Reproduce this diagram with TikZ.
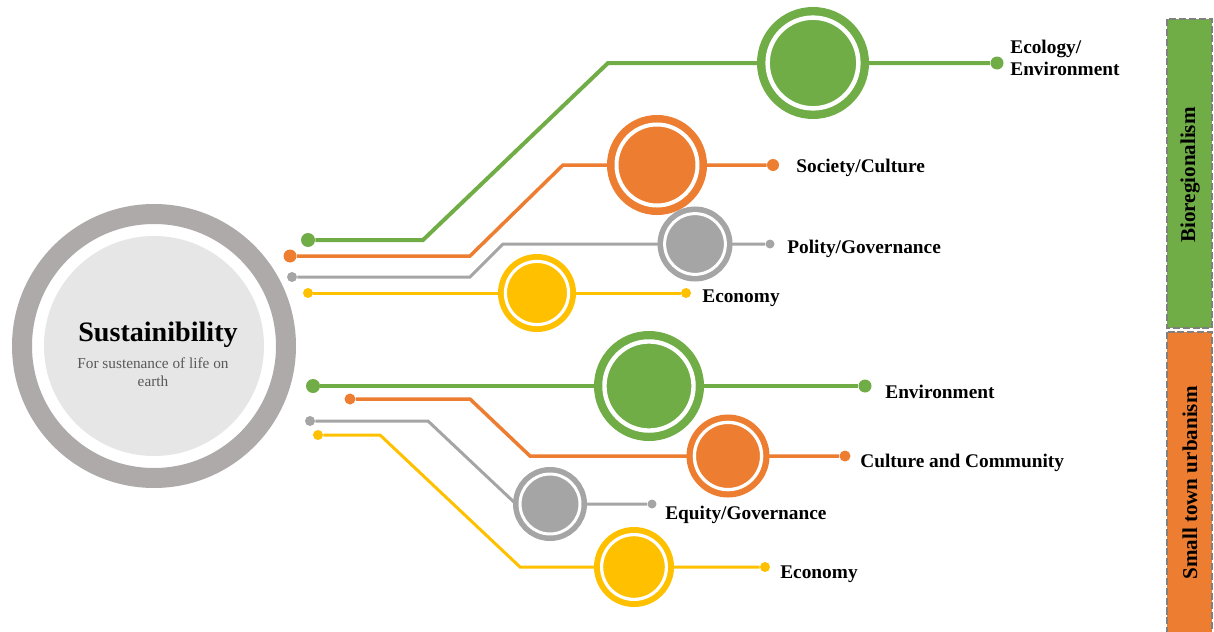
\documentclass[tikz,border=0pt]{standalone}
\usepackage{fontspec}
\setmainfont{Liberation Serif}
\usetikzlibrary{positioning}

\definecolor{leaf}{HTML}{70AD47}
\definecolor{rust}{HTML}{ED7D31}
\definecolor{ash}{HTML}{A5A5A5}
\definecolor{gold}{HTML}{FFC000}
\definecolor{hubring}{HTML}{AEAAAA}
\definecolor{hubfill}{HTML}{E7E6E6}

\tikzset{
    knob/.style 2 args={circle, fill=#1, inner sep=0pt, minimum size=#2*0.02cm},
    track/.style 2 args={draw=#1, line width=#2*0.02cm},
    badge/.style 2 args={circle, inner sep=0pt, fill=#1, draw=#1, double=white,
        double distance=0.08*#2*0.02cm, line width=0.15*#2*0.02cm, minimum size=1.62*#2*0.02cm},
    tag/.style={anchor=west, inner sep=0pt, align=left, yshift=-1.5pt, font=\fontsize{11}{12.5}\selectfont\bfseries},
    bandbox/.style={fill=#1, draw=black!50, line width=1.4pt, dash pattern=on 4pt off 1.6pt},
}

\begin{document}
\begin{tikzpicture}[x=0.02cm, y=-0.02cm]
            \useasboundingbox (0,0) rectangle (1214,632);

            % hub
            \node[circle, draw=hubring, fill=white, line width=20*0.02cm, minimum size=264*0.02cm] (hub) at (154,346) {};
            \node[circle, fill=hubfill, inner sep=0pt, minimum size=220*0.02cm] (core) at (hub) {};
            \node[font=\fontsize{16}{18}\selectfont\bfseries] (title) at (158,335) {Sustainibility};
            \node[font=\fontsize{8.7}{10.2}\selectfont, text=black!65, align=center] (motto) at (153,372) {For sustenance of life on\\earth};

            % end points
            \foreach \n/\c/\s/\x/\y in {ecoL/leaf/14/308/240, ecoR/leaf/13/997/63,
                    socL/rust/13/290/256, socR/rust/12/773/165,
                    polL/ash/10/292/277, polR/ash/9/770/244,
                    ecnL/gold/10/308/293, ecnR/gold/10/686/293,
                    envL/leaf/14/313/386, envR/leaf/13/865/386,
                    culL/rust/11/350/399, culR/rust/11/845/456,
                    equL/ash/10/310/421, equR/ash/9/652/504,
                    ectL/gold/10/318/435, ectR/gold/10/765/567} {
                \node[knob={\c}{\s}] (\n) at (\x,\y) {};
            }

            \draw[track={leaf}{4}] (ecoL) -- (423,240) -- (608,63) -- (ecoR);
            \draw[track={rust}{3.5}] (socL) -- (470,256) -- (563,165) -- (socR);
            \draw[track={ash}{3}] (polL) -- (470,277) -- (503,244) -- (polR);
            \draw[track={gold}{3}] (ecnL) -- (ecnR);
            \draw[track={leaf}{4}] (envL) -- (envR);
            \draw[track={rust}{3.5}] (culL) -- (470,399) -- (530,456) -- (culR);
            \draw[track={ash}{3}] (equL) -- (428,421) -- (516,504) -- (equR);
            \draw[track={gold}{3}] (ectL) -- (380,435) -- (520,567) -- (ectR);

            \node[badge={leaf}{56}] (eco) at (813,63) {};
            \node[badge={rust}{50}] (soc) at (657,165) {};
            \node[badge={ash}{37.5}] (pol) at (695,244) {};
            \node[badge={gold}{39}] (ecn) at (537,293) {};
            \node[badge={leaf}{55}] (env) at (649,386) {};
            \node[badge={rust}{41.5}] (cul) at (728,456) {};
            \node[badge={ash}{37}] (equ) at (550,504) {};
            \node[badge={gold}{40}] (ect) at (634,567) {};

            \node[tag] (ecoT) at (1010,55) {Ecology/\\Environment};
            \node[tag] (socT) at (796,165) {Society/Culture};
            \node[tag] (polT) at (787,246) {Polity/Governance};
            \node[tag] (ecnT) at (702,296) {Economy};
            \node[tag] (envT) at (885,389) {Environment};
            \node[tag] (culT) at (860,460) {Culture and Community};
            \node[tag] (equT) at (665,512) {Equity/Governance};
            \node[tag] (ectT) at (780,572) {Economy};

            % side bands
            \draw[bandbox=leaf] (1167,19) rectangle (1212,328);
            \draw[bandbox=rust] (1167,332) rectangle (1212,645);
            \node[rotate=90, font=\fontsize{12}{14}\selectfont\bfseries] (bio) at (1190,175) {Bioregionalism};
            \node[rotate=90, font=\fontsize{12}{14}\selectfont\bfseries] (stu) at (1190,483) {Small town urbanism};
        \end{tikzpicture}
\end{document}
